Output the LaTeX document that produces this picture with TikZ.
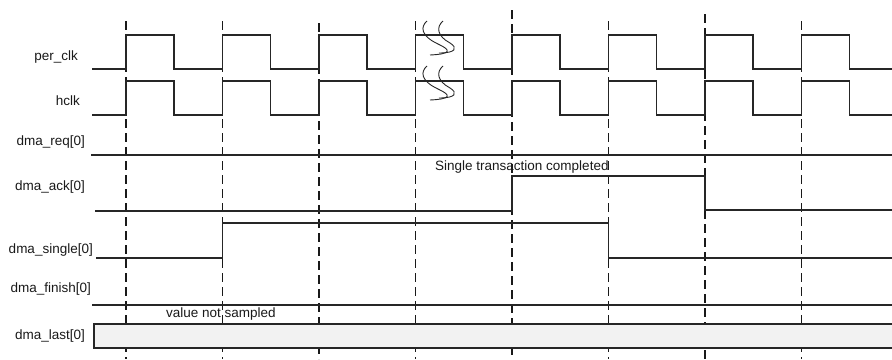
\documentclass[tikz,border=0pt]{standalone}
\usepackage{fontspec}
\setmainfont{Liberation Sans}

\tikzset{
  wave/.style={draw=black!85, line width=1.1pt},
  edge/.style={draw=black!90, line width=1.1pt, dash pattern=on 9pt off 5pt},
  lbl/.style={anchor=east, inner sep=0pt, text=black!90, font=\fontsize{13.5}{15}\selectfont},
  note/.style={anchor=west, inner sep=0pt, text=black!90, font=\fontsize{13.5}{15}\selectfont},
  brk/.pic={
    \draw[black!85, line width=0.9pt] (0,0) .. controls (-7,6) and (-6,15) .. (11,23)
      .. controls (24,29) and (25,33) .. (3,34);
    \draw[black!85, line width=0.9pt] (16,0) .. controls (9,6) and (10,15) .. (23,22)
      .. controls (31,27) and (29,32) .. (12,32);
  }
}

\begin{document}
\begin{tikzpicture}[x=1pt, y=-1pt]
    \useasboundingbox (0,0) rectangle (892,359);
    % clock edges
    \foreach \x/\t in {126/21, 222.5/21, 319/23, 415.5/21, 512/10, 608.5/21, 705/14, 801.5/21}
        \draw[edge] (\x,\t) -- (\x,359);
    % signal names
    \node[lbl] (perclk) at (78,57) {per\_clk};
    \node[lbl] (hclk) at (80,101) {hclk};
    \node[lbl] (req) at (85,142) {dma\_req[0]};
    \node[lbl] (ack) at (85,187) {dma\_ack[0]};
    \node[lbl] (single) at (93,250) {dma\_single[0]};
    \node[lbl] (finish) at (91,289) {dma\_finish[0]};
    \node[lbl] (last) at (85,336) {dma\_last[0]};
    % clocks
    \draw[wave] (92,69) foreach \i in {0,...,7} {
        -- ({126+96.5*\i},69) -- ++(0,-34) -- ++(48,0) -- ++(0,34) } -- (892,69);
    \draw[wave] (92,115) foreach \i in {0,...,7} {
        -- ({126+96.5*\i},115) -- ++(0,-34) -- ++(48,0) -- ++(0,34) } -- (892,115);
    \pic at (427,21) {brk};
    \pic at (427,66) {brk};
    % request / ack / single / finish
    \draw[wave] (91,155) -- (892,155);
    \draw[wave] (95,211) -- (512,211) -- (512,176) -- (705,176) -- (705,210) -- (892,210);
    \draw[wave] (96,258) -- (222.5,258) -- (222.5,223) -- (608.5,223) -- (608.5,258) -- (892,258);
    \draw[wave] (92,305) -- (892,305);
    \node[note] (done) at (435,167) {Single transaction completed};
    % last
    \fill[black!5] (94,324) rectangle (892,348);
    \draw[wave] (892,324) -- (94,324) -- (94,348) -- (892,348);
    \node[note] (nosample) at (166,314) {value not sampled};
\end{tikzpicture}
\end{document}
